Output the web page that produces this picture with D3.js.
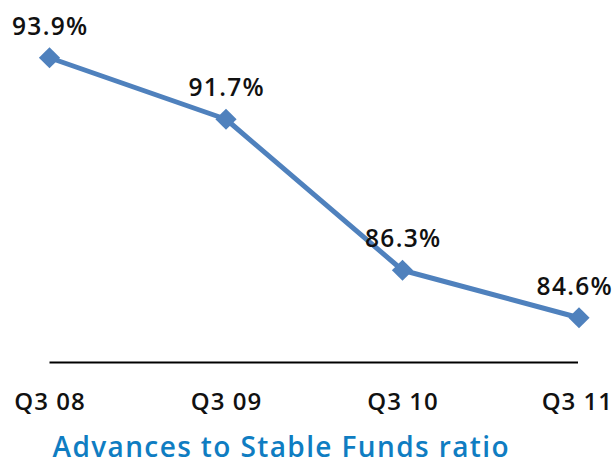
<!DOCTYPE html>
<html>
<head>
<meta charset="utf-8">
<script src="https://cdn.jsdelivr.net/npm/d3@7/dist/d3.min.js"></script>
<style>
  html, body { margin: 0; padding: 0; background: #ffffff; }
  svg { display: block; }
</style>
</head>
<body>
<svg id="chart" width="614" height="464"></svg>
<script>
const categories = ["Q3 08", "Q3 09", "Q3 10", "Q3 11"];
const values = [93.9, 91.7, 86.3, 84.6];
const valueLabels = ["93.9%", "91.7%", "86.3%", "84.6%"];
const title = "Advances to Stable Funds ratio";

const svg = d3.select("#chart");
const W = 614;
const lineColor = "#4f81bd";
const font = "'Open Sans', sans-serif";

const x = d3.scalePoint().domain(categories).range([49.5, 579]);
const y = d3.scaleLinear().domain([83, 95]).range([362.5, 27]);

const data = categories.map((c, i) => ({ c, v: values[i], label: valueLabels[i] }));

// axis baseline
const xAxis = d3.axisBottom(x).tickSize(0).tickFormat(() => "");
const axisG = svg.append("g").attr("transform", `translate(0,${y(83)})`).call(xAxis);
axisG.select(".domain").attr("d", `M${x(categories[0])},0H${x(categories[3]) - 1}`)
  .attr("stroke", "#000").attr("stroke-width", 2);

// category labels
svg.append("g").selectAll("text").data(data).join("text")
  .attr("x", d => x(d.c) + 0.5)
  .attr("y", 410)
  .attr("text-anchor", "middle")
  .attr("font-family", font)
  .attr("font-weight", 600)
  .attr("font-size", 24)
  .attr("letter-spacing", 1)
  .attr("fill", "#111")
  .text(d => d.c)
  .each(function () {
    const b = this.getBBox();
    if (b.x + b.width > W - 1) d3.select(this).attr("x", +d3.select(this).attr("x") - (b.x + b.width - (W - 1)));
  });

// line
const line = d3.line().x(d => x(d.c)).y(d => y(d.v));
svg.append("path").datum(data)
  .attr("d", line)
  .attr("fill", "none")
  .attr("stroke", lineColor)
  .attr("stroke-width", 5)
  .attr("stroke-linejoin", "round");

// diamond markers
const sym = d3.symbol().type(d3.symbolSquare).size(15 * 15);
svg.append("g").selectAll("path").data(data).join("path")
  .attr("d", sym)
  .attr("transform", d => `translate(${x(d.c)},${y(d.v)}) rotate(45)`)
  .attr("fill", lineColor);

// value labels
svg.append("g").selectAll("text").data(data).join("text")
  .attr("x", d => x(d.c) + 0.75)
  .attr("y", d => y(d.v) - 23)
  .attr("text-anchor", "middle")
  .attr("font-family", font)
  .attr("font-weight", 600)
  .attr("font-size", 24.5)
  .attr("letter-spacing", 1.3)
  .attr("fill", "#111")
  .text(d => d.label)
  .each(function () {
    const b = this.getBBox();
    if (b.x + b.width > W - 1) d3.select(this).attr("x", +d3.select(this).attr("x") - (b.x + b.width - (W - 1)));
  });

// title
svg.append("text")
  .attr("x", 52.5)
  .attr("y", 457)
  .attr("font-family", font)
  .attr("font-weight", 600)
  .attr("font-size", 28)
  .attr("textLength", 456)
  .attr("lengthAdjust", "spacing")
  .attr("fill", "#0f7dc2")
  .text(title);
</script>
</body>
</html>
